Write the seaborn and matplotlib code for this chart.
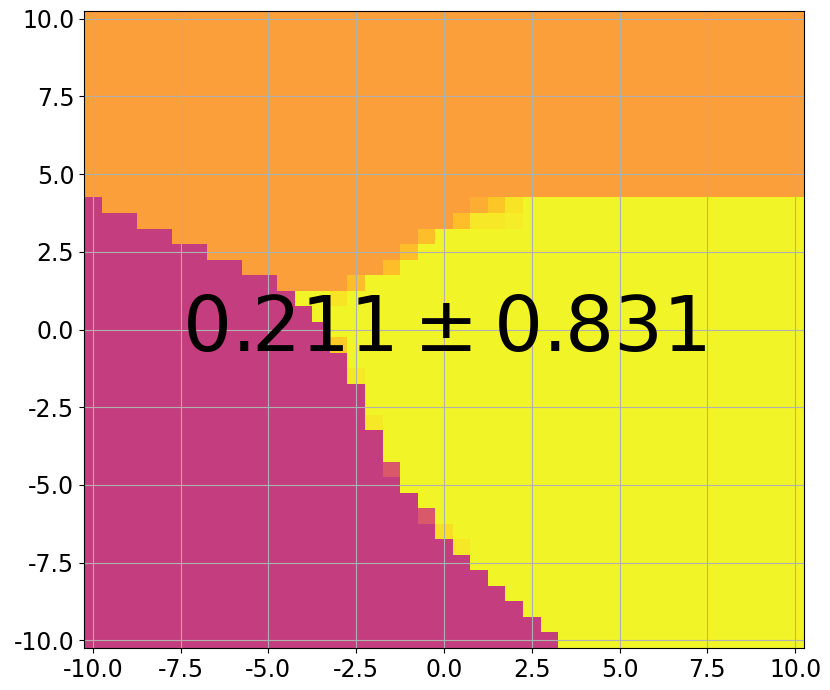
import numpy as np
import matplotlib
matplotlib.use("Agg")
import matplotlib.pyplot as plt
import seaborn as sns

# cell centres of the map (0.5 apart)
x_vals = np.arange(-10, 10.01, 0.5)
y_vals = np.arange(-10, 10.01, 0.5)

# colour value (plasma) of each region
pink_val = 0.47
orange_val = 0.78
yellow_val = 0.985

# lowest y of the orange block, one value per column (x = -10 ... 10)
orange_floor = [4.5, 4.0, 4.0, 3.5, 3.5, 3.0, 3.0, 2.5, 2.5, 2.0, 2.0,
                1.5, 1.5, 1.5, 1.5, 2.0, 2.0, 2.5, 3.0, 3.5, 3.5,
                4.0, 4.0, 4.5, 4.5, 4.5, 4.5, 4.5, 4.5, 4.5, 4.5,
                4.5, 4.5, 4.5, 4.5, 4.5, 4.5, 4.5, 4.5, 4.5, 4.5]

# highest y of the pink block, one value per column (nan = no pink)
pink_top = [4.0, 3.5, 3.5, 3.0, 3.0, 2.5, 2.5, 2.0, 2.0, 1.5, 1.5,
            1.0, 0.5, 0.0, -1.0, -2.0, -3.5, -5.0, -5.5, -6.5, -7.0,
            -7.5, -8.0, -8.5, -9.0, -9.5, -10.0, np.nan, np.nan, np.nan, np.nan,
            np.nan, np.nan, np.nan, np.nan, np.nan, np.nan, np.nan, np.nan, np.nan, np.nan]

# mixed cells along the borders: x, y, value
blend_x = [-2.5, -1.5, -1.0, -0.5, 0.5, 1.5, 1.0, 2.0, 1.0, 1.5, 2.0, -3.0,
           -3.0, -2.5, -2.0, -1.5, -0.5, 0.0, 0.5]
blend_y = [1.5, 2.0, 2.5, 3.0, 3.5, 4.0, 4.0, 4.0, 3.5, 3.5, 3.5, 1.0,
           -0.5, -1.5, -3.0, -4.5, -6.0, -6.5, -7.0]
blend_v = [0.86, 0.86, 0.86, 0.86, 0.86, 0.88, 0.82, 0.95, 0.96, 0.96, 0.97, 0.95,
           0.89, 0.96, 0.96, 0.56, 0.56, 0.94, 0.96]

tick_vals = [-10.0, -7.5, -5.0, -2.5, 0.0, 2.5, 5.0, 7.5, 10.0]
tick_labels = ["-10.0", "-7.5", "-5.0", "-2.5", "0.0", "2.5", "5.0", "7.5", "10.0"]

score_text = r"$0.211 \pm 0.831$"


def build_grid():
    z = np.zeros((len(y_vals), len(x_vals)))
    for i, x in enumerate(x_vals):
        for j, y in enumerate(y_vals):
            if y >= orange_floor[i] - 1e-9:
                z[j, i] = orange_val
            elif not np.isnan(pink_top[i]) and y <= pink_top[i] + 1e-9:
                z[j, i] = pink_val
            else:
                z[j, i] = yellow_val
    # border cells that sit between two classes
    for bx, by, bv in zip(blend_x, blend_y, blend_v):
        i = int(np.argmin(np.abs(x_vals - bx)))
        j = int(np.argmin(np.abs(y_vals - by)))
        z[j, i] = bv
    return z


sns.reset_orig()
plt.rcParams['font.family'] = ['DejaVu Sans']
plt.rcParams['axes.unicode_minus'] = False

fig = plt.figure(figsize=(8.3, 6.9), dpi=100)
ax = fig.add_axes([84 / 830, 42 / 690, 720 / 830, 637 / 690])

z = build_grid()
ax.pcolormesh(x_vals, y_vals, z, shading='nearest', cmap='plasma', vmin=0, vmax=1)
ax.grid(True, color='#b0b0b0', linewidth=0.8)

ax.set_xticks(tick_vals)
ax.set_xticklabels(tick_labels)
ax.set_yticks(tick_vals)
ax.set_yticklabels(tick_labels)
ax.tick_params(labelsize=17)

ax.text(0, 0, score_text, fontsize=55.5, ha='center', va='center')

fig.savefig('out.png', dpi=100)
